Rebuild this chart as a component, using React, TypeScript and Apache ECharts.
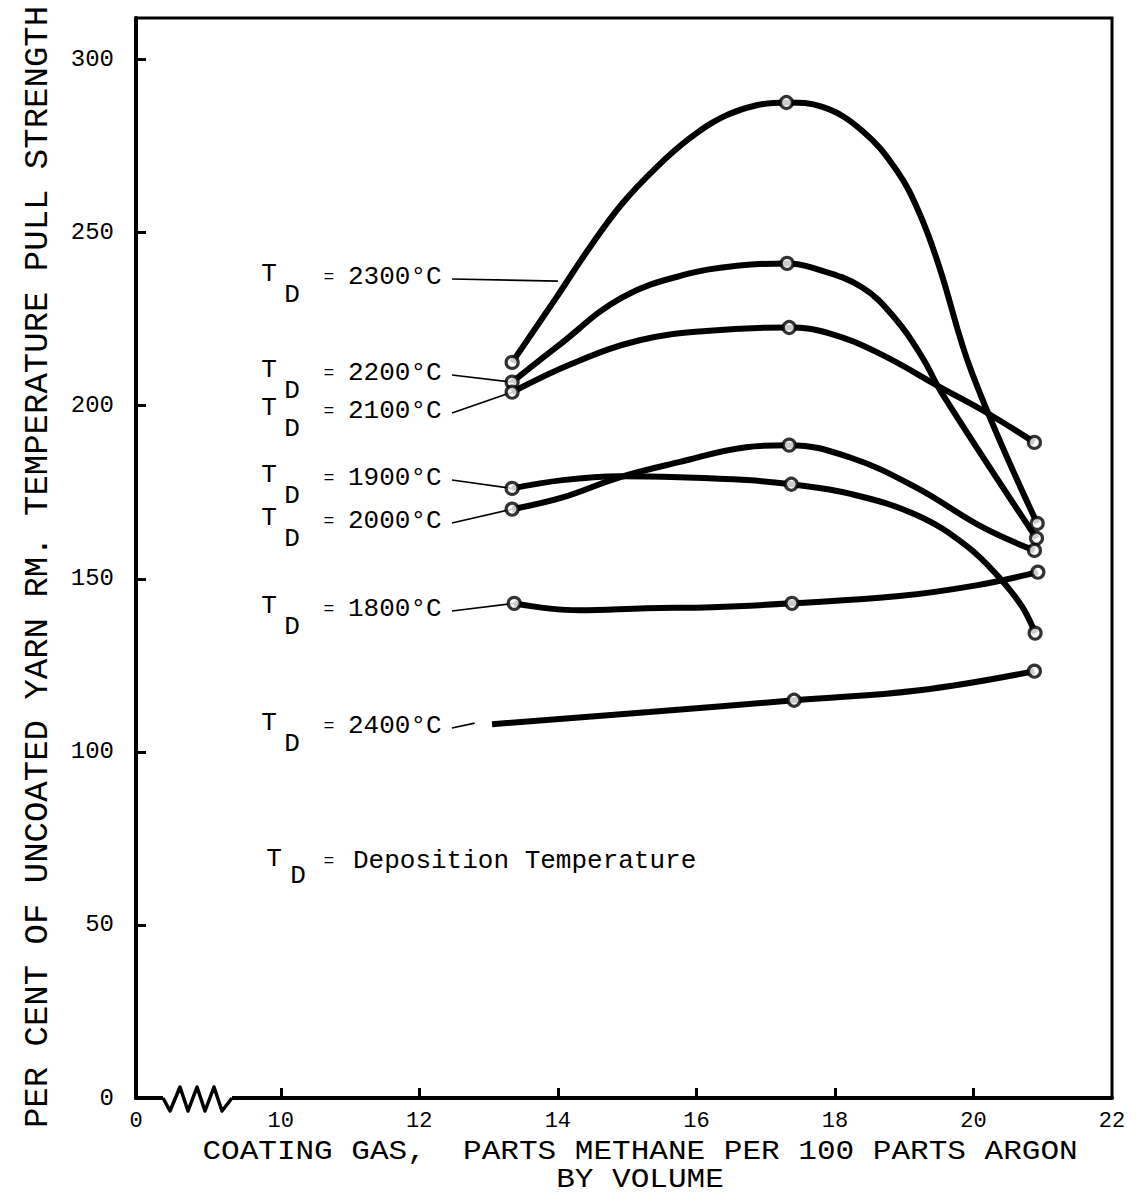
import React, { useEffect, useRef } from "react";
import * as echarts from "echarts";

// ---------- data ----------
const xTickValues = [10, 12, 14, 16, 18, 20];
const xLabelValues = [7.91, 10, 12, 14, 16, 18, 20, 22];
const yTickValues = [50, 100, 150, 200, 250, 300];
const yLabelValues = [0, 50, 100, 150, 200, 250, 300];

const temps = ["2300", "2200", "2100", "1900", "2000", "1800", "2400"];

// traced curves [methane parts, % strength]
const curve2300 = [[13.34, 212.5], [13.98, 231.3], [14.46, 245.7], [14.93, 258.4], [15.42, 268.8], [15.9, 277.2], [16.37, 283.3], [16.87, 286.8], [17.3, 287.6], [17.82, 286.3], [18.39, 279.5], [18.89, 268.0], [19.22, 255.6], [19.5, 240.5], [19.98, 209.4], [20.92, 166.0]];
const curve2200 = [[13.34, 206.8], [13.98, 216.9], [14.93, 231.3], [15.9, 238.2], [16.62, 240.5], [17.31, 241.1], [17.67, 239.9], [18.39, 234.2], [18.89, 224.7], [19.26, 214.0], [19.55, 203.4], [20.91, 161.7]];
const curve2100 = [[13.34, 203.9], [14.21, 212.2], [15.18, 218.9], [16.14, 221.6], [17.34, 222.6], [17.92, 220.9], [18.64, 215.1], [19.55, 205.0], [20.18, 198.1], [20.88, 189.4]];
const curve1900 = [[13.34, 176.1], [14.07, 178.5], [14.89, 179.6], [15.75, 179.3], [16.72, 178.5], [17.37, 177.3], [18.21, 174.6], [19.17, 168.5], [19.9, 159.5], [20.37, 150.4], [20.7, 142.0], [20.89, 134.3]];
const curve2000 = [[13.34, 170.1], [14.07, 173.5], [14.89, 179.3], [15.75, 183.7], [16.72, 188.0], [17.34, 188.6], [18.21, 185.1], [19.17, 176.4], [20.13, 164.9], [20.88, 158.2]];
const curve1800 = [[13.37, 142.9], [14.31, 140.9], [15.28, 141.5], [16.23, 141.8], [17.38, 142.9], [18.93, 145.0], [20.04, 148.1], [20.93, 151.9]];
const curve2400 = [[13.05, 108.0], [15.32, 111.5], [17.41, 114.9], [19.22, 117.8], [20.88, 123.3]];

// measured points (open circles)
const pts2300 = [[13.34, 212.5], [17.3, 287.6], [20.92, 166.0]];
const pts2200 = [[13.34, 206.8], [17.31, 241.1], [20.91, 161.7]];
const pts2100 = [[13.34, 203.9], [17.34, 222.6], [20.88, 189.4]];
const pts1900 = [[13.34, 176.1], [17.37, 177.3], [20.89, 134.3]];
const pts2000 = [[13.34, 170.1], [17.34, 188.6], [20.88, 158.2]];
const pts1800 = [[13.37, 142.9], [17.38, 142.9], [20.93, 151.9]];
const pts2400 = [[17.41, 114.9], [20.88, 123.3]];

// where each label's leader line ends (data coords)
const leaderEnds = [[14.0, 236.0], [13.34, 206.8], [13.34, 203.9], [13.34, 176.1], [13.34, 170.1], [13.37, 142.9], [12.8, 108.3]];

const curves = [curve2300, curve2200, curve2100, curve1900, curve2000, curve1800, curve2400];
const markerSets = [pts2300, pts2200, pts2100, pts1900, pts2000, pts1800, pts2400];

// ---------- layout ----------
const FONT = "'Liberation Mono', 'Courier New', monospace";
const labelRowY = [277, 373, 411, 478, 521, 609, 726];
const LABEL = { tX: 269, dX: 292, eqX: 329, valX: 348, leaderX: 452 };
const DEP_ROW_Y = 861;

export default function App() {
  const ref = useRef<HTMLDivElement>(null);

  useEffect(() => {
    const chart = echarts.init(ref.current!, null, { renderer: "svg" });

    const lineSeries = curves.map((c, i) => ({
      type: "line",
      name: temps[i],
      data: c,
      smooth: 0.4,
      symbol: "none",
      showSymbol: false,
      lineStyle: { color: "#000", width: 6 },
      z: 3,
      silent: true,
    }));

    const markerSeries = markerSets.map((m, i) => ({
      type: "scatter",
      name: temps[i] + " pts",
      data: m,
      symbol: "circle",
      symbolSize: 12,
      itemStyle: { color: "#fff", borderColor: "#000", borderWidth: 3.2 },
      z: 5,
      silent: true,
    }));

    chart.setOption({
      animation: false,
      backgroundColor: "#fff",
      grid: {
        left: 136,
        right: 28,
        top: 18,
        bottom: 99,
        show: true,
        borderColor: "#000",
        borderWidth: 3,
        containLabel: false,
      },
      xAxis: {
        type: "value",
        min: 7.91,
        max: 22,
        axisLine: { show: true, lineStyle: { color: "#000", width: 4 } },
        axisTick: {
          show: true,
          inside: true,
          length: 10,
          customValues: xTickValues,
          lineStyle: { color: "#000", width: 3 },
        },
        axisLabel: {
          customValues: xLabelValues,
          formatter: (v: number) => (v < 9 ? "0" : String(Math.round(v))),
          color: "#000",
          fontFamily: FONT,
          fontSize: 22,
          margin: 12,
        },
        splitLine: { show: false },
      },
      yAxis: {
        type: "value",
        min: 0,
        max: 312,
        axisLine: { show: true, lineStyle: { color: "#000", width: 4 } },
        axisTick: {
          show: true,
          inside: true,
          length: 10,
          customValues: yTickValues,
          lineStyle: { color: "#000", width: 3 },
        },
        axisLabel: {
          customValues: yLabelValues,
          color: "#000",
          fontFamily: FONT,
          fontSize: 24,
          margin: 22,
        },
        splitLine: { show: false },
      },
      series: [...lineSeries, ...markerSeries],
    });

    const toPx = (p: number[]) => chart.convertToPixel({ gridIndex: 0 }, p) as number[];

    const elements: any[] = [];
    const txt = (text: string, x: number, y: number, size: number, align = "left", extra: any = {}) => ({
      type: "text",
      x,
      y,
      z: 50,
      ...extra,
      style: {
        text,
        fill: "#000",
        fontFamily: FONT,
        fontSize: size,
        align,
        verticalAlign: "middle",
      },
    });

    temps.forEach((t, i) => {
      const y = labelRowY[i];
      elements.push(txt("T", LABEL.tX, y - 3, 26, "center"));
      elements.push(txt("D", LABEL.dX, y + 18, 26, "center"));
      elements.push(txt("=", LABEL.eqX, y, 18, "center"));
      elements.push(txt(t + "°C", LABEL.valX, y, 26, "left"));
      const end = toPx(leaderEnds[i]);
      elements.push({
        type: "line",
        z: 1,
        shape: { x1: LABEL.leaderX, y1: y + 2, x2: end[0], y2: end[1] },
        style: { stroke: "#000", lineWidth: 1.6 },
      });
    });

    // TD = Deposition Temperature
    elements.push(txt("T", 274, DEP_ROW_Y - 2, 26, "center"));
    elements.push(txt("D", 298, DEP_ROW_Y + 15, 26, "center"));
    elements.push(txt("=", 329, DEP_ROW_Y, 18, "center"));
    elements.push(txt("Deposition Temperature", 353, DEP_ROW_Y, 26, "left"));

    // axis titles
    elements.push(
      txt("PER CENT OF UNCOATED YARN RM. TEMPERATURE PULL STRENGTH", 38, 567, 34, "center", {
        rotation: Math.PI / 2,
      })
    );
    elements.push(
      txt("COATING GAS,  PARTS METHANE PER 100 PARTS ARGON", 640, 1152, 27, "center", { scaleX: 1.15 })
    );
    elements.push(txt("BY VOLUME", 640, 1180, 27, "center", { scaleX: 1.15 }));

    // axis break (zigzag)
    const axisY = toPx([8, 0])[1];
    elements.push({
      type: "rect",
      z: 100,
      shape: { x: 163, y: axisY - 4, width: 69, height: 8 },
      style: { fill: "#fff" },
    });
    const zz = [
      [163, 0], [170, 13], [180, -11], [188, 13], [197, -11], [205, 13], [214, -11], [222, 13], [232, 0],
    ];
    elements.push({
      type: "polyline",
      z: 101,
      shape: { points: zz.map(([x, dy]) => [x, axisY + dy]) },
      style: { stroke: "#000", lineWidth: 3.5, fill: null, lineJoin: "round" },
    });

    chart.setOption({ graphic: { elements } });

    return () => chart.dispose();
  }, []);

  return (
    <div
      ref={ref}
      style={{ position: "absolute", left: 0, top: 0, width: 1140, height: 1197, background: "#fff" }}
    />
  );
}
